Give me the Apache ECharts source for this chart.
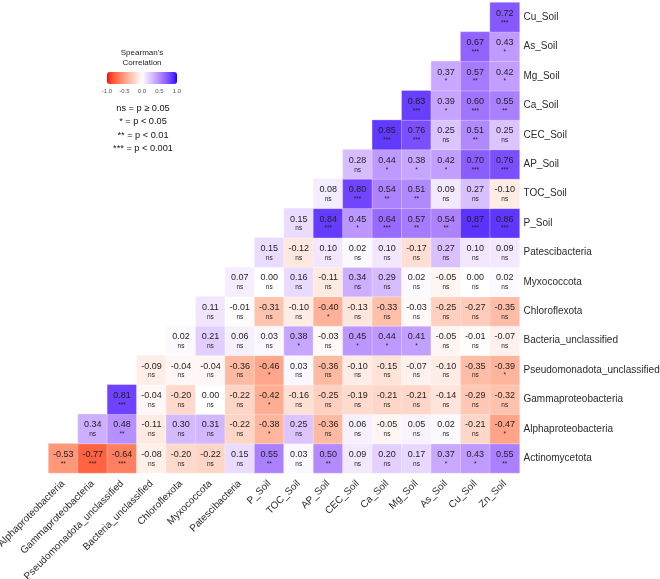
<!DOCTYPE html>
<html>
<head>
<meta charset="utf-8">
<script src="https://cdn.jsdelivr.net/npm/echarts@6/dist/echarts.min.js"></script>
<style>
  html, body { margin: 0; padding: 0; background: #fff; }
  #main { width: 660px; height: 579px; }
</style>
</head>
<body>
<div id="main"></div>
<script>
// column order (x axis, left -> right)
const colNames = ['Alphaproteobacteria', 'Gammaproteobacteria', 'Pseudomonadota_unclassified',
  'Bacteria_unclassified', 'Chloroflexota', 'Myxococcota', 'Patescibacteria', 'P_Soil', 'TOC_Soil',
  'AP_Soil', 'CEC_Soil', 'Ca_Soil', 'Mg_Soil', 'As_Soil', 'Cu_Soil', 'Zn_Soil'];
// row order (y axis, bottom -> top)
const rowNames = ['Actinomycetota', 'Alphaproteobacteria', 'Gammaproteobacteria',
  'Pseudomonadota_unclassified', 'Bacteria_unclassified', 'Chloroflexota', 'Myxococcota',
  'Patescibacteria', 'P_Soil', 'TOC_Soil', 'AP_Soil', 'CEC_Soil', 'Ca_Soil', 'Mg_Soil', 'As_Soil', 'Cu_Soil'];

// each row starts at the column with the same index as the row (lower triangle)
const rActino = [-0.53, -0.77, -0.64, -0.08, -0.20, -0.22, 0.15, 0.55, 0.03, 0.50, 0.09, 0.20, 0.17, 0.37, 0.43, 0.55];
const pActino = ['**', '***', '***', 'ns', 'ns', 'ns', 'ns', '**', 'ns', '**', 'ns', 'ns', 'ns', '*', '*', '**'];
const rAlpha = [0.34, 0.48, -0.11, 0.30, 0.31, -0.22, -0.38, 0.25, -0.36, 0.06, -0.05, 0.05, 0.02, -0.21, -0.47];
const pAlpha = ['ns', '**', 'ns', 'ns', 'ns', 'ns', '*', 'ns', 'ns', 'ns', 'ns', 'ns', 'ns', 'ns', '*'];
const rGamma = [0.81, -0.04, -0.20, 0.00, -0.22, -0.42, -0.16, -0.25, -0.19, -0.21, -0.21, -0.14, -0.29, -0.32];
const pGamma = ['***', 'ns', 'ns', 'ns', 'ns', '*', 'ns', 'ns', 'ns', 'ns', 'ns', 'ns', 'ns', 'ns'];
const rPseudo = [-0.09, -0.04, -0.04, -0.36, -0.46, 0.03, -0.36, -0.10, -0.15, -0.07, -0.10, -0.35, -0.39];
const pPseudo = ['ns', 'ns', 'ns', 'ns', '*', 'ns', 'ns', 'ns', 'ns', 'ns', 'ns', 'ns', '*'];
const rBact = [0.02, 0.21, 0.06, 0.03, 0.38, -0.03, 0.45, 0.44, 0.41, -0.05, -0.01, -0.07];
const pBact = ['ns', 'ns', 'ns', 'ns', '*', 'ns', '*', '*', '*', 'ns', 'ns', 'ns'];
const rChloro = [0.11, -0.01, -0.31, -0.10, -0.40, -0.13, -0.33, -0.03, -0.25, -0.27, -0.35];
const pChloro = ['ns', 'ns', 'ns', 'ns', '*', 'ns', 'ns', 'ns', 'ns', 'ns', 'ns'];
const rMyxo = [0.07, 0.00, 0.16, -0.11, 0.34, 0.29, 0.02, -0.05, 0.00, 0.02];
const pMyxo = ['ns', 'ns', 'ns', 'ns', 'ns', 'ns', 'ns', 'ns', 'ns', 'ns'];
const rPates = [0.15, -0.12, 0.10, 0.02, 0.10, -0.17, 0.27, 0.10, 0.09];
const pPates = ['ns', 'ns', 'ns', 'ns', 'ns', 'ns', 'ns', 'ns', 'ns'];
const rP = [0.15, 0.84, 0.45, 0.64, 0.57, 0.54, 0.87, 0.86];
const pP = ['ns', '***', '*', '***', '**', '**', '***', '***'];
const rTOC = [0.08, 0.80, 0.54, 0.51, 0.09, 0.27, -0.10];
const pTOC = ['ns', '***', '**', '**', 'ns', 'ns', 'ns'];
const rAP = [0.28, 0.44, 0.38, 0.42, 0.70, 0.76];
const pAP = ['ns', '*', '*', '*', '***', '***'];
const rCEC = [0.85, 0.76, 0.25, 0.51, 0.25];
const pCEC = ['***', '***', 'ns', '**', 'ns'];
const rCa = [0.83, 0.39, 0.60, 0.55];
const pCa = ['***', '*', '***', '**'];
const rMg = [0.37, 0.57, 0.42];
const pMg = ['*', '**', '*'];
const rAs = [0.67, 0.43];
const pAs = ['***', '*'];
const rCu = [0.72];
const pCu = ['***'];

const legendTicks = [-1.0, -0.5, 0.0, 0.5, 1.0];
const sigKey = ['ns = p \u2265 0.05', '* = p < 0.05', '** = p < 0.01', '*** = p < 0.001'];

const rowVals = [rActino, rAlpha, rGamma, rPseudo, rBact, rChloro, rMyxo, rPates, rP, rTOC, rAP, rCEC, rCa, rMg, rAs, rCu];
const rowSig = [pActino, pAlpha, pGamma, pPseudo, pBact, pChloro, pMyxo, pPates, pP, pTOC, pAP, pCEC, pCa, pMg, pAs, pCu];

let cells = [];
rowVals.forEach(function (vals, y) {
  vals.forEach(function (v, k) {
    cells.push({ value: [y + k, y, v], sig: rowSig[y][k] });
  });
});

// red - white - blue ramp interpolated in CIELAB (like ggplot's gradient2)
function toLab(hex) {
  let c = [1, 3, 5].map(i => parseInt(hex.substr(i, 2), 16) / 255)
    .map(v => v <= 0.04045 ? v / 12.92 : Math.pow((v + 0.055) / 1.055, 2.4));
  let X = (0.4124 * c[0] + 0.3576 * c[1] + 0.1805 * c[2]) / 0.95047;
  let Y = 0.2126 * c[0] + 0.7152 * c[1] + 0.0722 * c[2];
  let Z = (0.0193 * c[0] + 0.1192 * c[1] + 0.9505 * c[2]) / 1.08883;
  let f = t => t > 0.008856 ? Math.cbrt(t) : 7.787 * t + 16 / 116;
  return [116 * f(Y) - 16, 500 * (f(X) - f(Y)), 200 * (f(Y) - f(Z))];
}
function fromLab(lab) {
  let fy = (lab[0] + 16) / 116, fx = fy + lab[1] / 500, fz = fy - lab[2] / 200;
  let inv = t => t * t * t > 0.008856 ? t * t * t : (t - 16 / 116) / 7.787;
  let X = inv(fx) * 0.95047, Y = inv(fy), Z = inv(fz) * 1.08883;
  let r = 3.2406 * X - 1.5372 * Y - 0.4986 * Z;
  let g = -0.9689 * X + 1.8758 * Y + 0.0415 * Z;
  let b = 0.0557 * X - 0.2040 * Y + 1.0570 * Z;
  let out = [r, g, b].map(v => v <= 0.0031308 ? 12.92 * v : 1.055 * Math.pow(v, 1 / 2.4) - 0.055)
    .map(v => Math.round(Math.max(0, Math.min(1, v)) * 255));
  return 'rgb(' + out.join(',') + ')';
}
const labRed = toLab('#FF0000'), labWhite = toLab('#FFFFFF'), labBlue = toLab('#0000FF');
let ramp = [];
for (let i = 0; i <= 40; i++) {
  let t = -1 + i / 20;
  let end = t < 0 ? labRed : labBlue;
  let a = Math.abs(t);
  ramp.push(fromLab([0, 1, 2].map(j => labWhite[j] + (end[j] - labWhite[j]) * a)));
}

const barLeft = 107, barTop = 72, barLen = 70, barThick = 12;
const font = 'Liberation Sans, Arial, sans-serif';

let graphics = [];
graphics.push({
  type: 'text', x: 142, y: 48,
  style: { text: "Spearman's\nCorrelation", fontSize: 8, lineHeight: 10, fill: '#222',
    textAlign: 'center', fontFamily: font }
});
legendTicks.forEach(function (t) {
  graphics.push({
    type: 'text', x: barLeft + (t + 1) / 2 * barLen, y: barTop + barThick + 4,
    style: { text: t.toFixed(1), fontSize: 6, fill: '#555', textAlign: 'center', fontFamily: font }
  });
});
sigKey.forEach(function (s, i) {
  graphics.push({
    type: 'text', x: 143, y: 104 + i * 13.4,
    style: { text: s, fontSize: 9.2, fill: '#111', textAlign: 'center', fontFamily: font }
  });
});

const chart = echarts.init(document.getElementById('main'));
chart.setOption({
  backgroundColor: '#fff',
  animation: false,
  textStyle: { fontFamily: font },
  grid: { left: 48.5, top: 2.5, width: 471, height: 470.5, containLabel: false, outerBoundsMode: 'none' },
  xAxis: {
    type: 'category',
    data: colNames,
    position: 'bottom',
    axisLine: { show: false },
    axisTick: { show: false },
    splitLine: { show: false },
    axisLabel: { rotate: 45, interval: 0, fontSize: 10, color: '#2b2b2b', margin: 9 }
  },
  yAxis: {
    type: 'category',
    data: rowNames,
    position: 'right',
    axisLine: { show: false },
    axisTick: { show: false },
    splitLine: { show: false },
    axisLabel: { interval: 0, fontSize: 10, color: '#2b2b2b', margin: 4 }
  },
  visualMap: {
    type: 'continuous',
    min: -1,
    max: 1,
    orient: 'horizontal',
    left: barLeft,
    top: barTop,
    padding: 0,
    itemWidth: barThick,
    itemHeight: barLen,
    calculable: false,
    text: null,
    showLabel: false,
    inRange: { color: ramp }
  },
  graphic: graphics,
  series: [{
    type: 'heatmap',
    data: cells,
    itemStyle: { borderColor: 'rgba(255,255,255,0.6)', borderWidth: 0.5 },
    label: {
      show: true,
      formatter: function (p) {
        return '{v|' + p.value[2].toFixed(2) + '}\n{s|' + p.data.sig + '}';
      },
      rich: {
        v: { fontSize: 9, color: '#1e1e1e', lineHeight: 11 },
        s: { fontSize: 6.5, color: '#1e1e1e', lineHeight: 8 }
      }
    }
  }]
});
</script>
</body>
</html>
